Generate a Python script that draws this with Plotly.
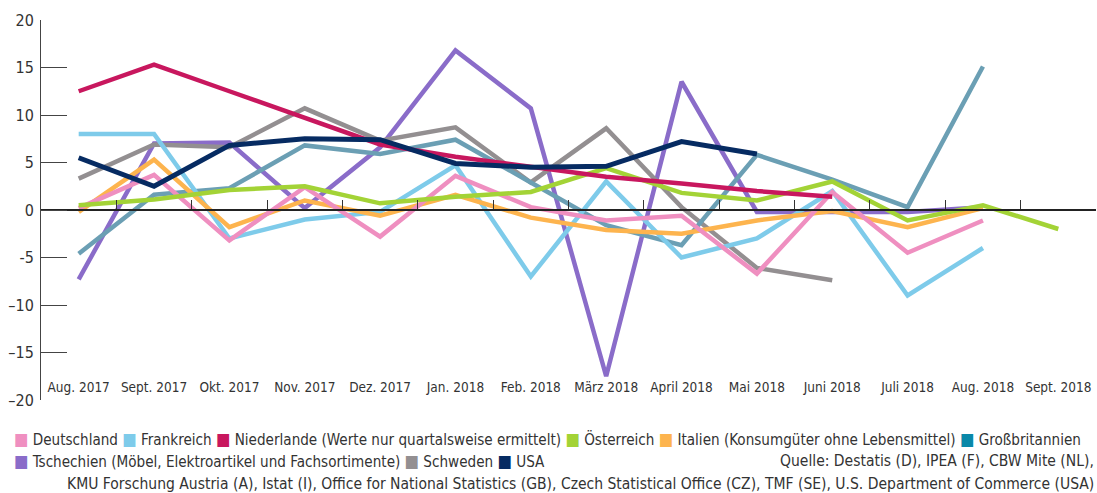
import plotly.graph_objects as go

months = ["Aug. 2017", "Sept. 2017", "Okt. 2017", "Nov. 2017", "Dez. 2017", "Jan. 2018",
          "Feb. 2018", "März 2018", "April 2018", "Mai 2018", "Juni 2018", "Juli 2018",
          "Aug. 2018", "Sept. 2018"]

deutschland = [0.2, 3.7, -3.2, 2.4, -2.8, 3.6, 0.3, -1.1, -0.6, -6.7, 1.9, -4.5, -1.1, None]
frankreich = [8.0, 8.0, -3.0, -1.0, -0.2, 4.7, -7.0, 3.0, -5.0, -3.0, 2.0, -9.0, -4.0, None]
niederlande = [12.5, 15.3, 12.5, 9.7, 6.9, 5.6, 4.5, 3.5, 2.8, 2.0, 1.4, None, None, None]
oesterreich = [0.5, 1.1, 2.1, 2.5, 0.7, 1.4, 1.9, 4.4, 1.8, 1.0, 3.0, -1.1, 0.5, -2.0]
italien = [-0.2, 5.3, -1.8, 1.0, -0.6, 1.6, -0.8, -2.1, -2.5, -1.1, -0.1, -1.8, 0.2, None]
grossbritannien = [-4.6, 1.6, 2.3, 6.8, 5.9, 7.4, 2.9, -1.6, -3.7, 5.8, 3.2, 0.3, 15.1, None]
tschechien = [-7.3, 7.0, 7.1, 0.2, 6.6, 16.8, 10.7, -17.5, 13.5, -0.2, -0.2, -0.2, 0.3, None]
schweden = [3.3, 6.9, 6.6, 10.7, 7.3, 8.7, 2.9, 8.6, 0.3, -6.1, -7.4, None, None, None]
usa = [5.5, 2.5, 6.8, 7.5, 7.4, 4.9, 4.5, 4.6, 7.2, 5.9, None, None, None, None]

y_tickvals = [20, 15, 10, 5, 0, -5, -10, -15, -20]
y_ticktext = ["20", "15", "10", "5", "0", "-5", "\u201310", "\u201315", "\u201320"]

legend_line1 = [("Deutschland", "#ef8fc0"), ("Frankreich", "#7ecbea"),
                ("Niederlande (Werte nur quartalsweise ermittelt)", "#c8175e"),
                ("Österreich", "#a3d336"), ("Italien (Konsumgüter ohne Lebensmittel)", "#fdb44e"),
                ("Großbritannien", "#0a88a8")]
legend_line2 = [("Tschechien (Möbel, Elektroartikel und Fachsortimente)", "#8a6cc9"),
                ("Schweden", "#938f91"), ("USA", "#062b62")]
source_a = "Quelle: Destatis (D), IPEA (F), CBW Mite (NL),"
source_b = ("KMU Forschung Austria (A), Istat (I), Office for National Statistics (GB), "
            "Czech Statistical Office (CZ), TMF (SE), U.S. Department of Commerce (USA)")

FONT = "DejaVu Sans Condensed, Liberation Sans, sans-serif"
TXT = "#333333"

series = [
    ("Tschechien", tschechien, "#8a6cc9", 4.5),
    ("Schweden", schweden, "#938f91", 4.5),
    ("Großbritannien", grossbritannien, "#6b9fb4", 4.5),
    ("Frankreich", frankreich, "#7ecbea", 4.5),
    ("Italien", italien, "#fdb44e", 4.5),
    ("Deutschland", deutschland, "#ef8fc0", 4.5),
    ("Österreich", oesterreich, "#a3d336", 4.5),
    ("Niederlande", niederlande, "#c8175e", 4.5),
    ("USA", usa, "#062b62", 5),
]

fig = go.Figure()
for name, vals, col, w in series:
    fig.add_trace(go.Scatter(x=months, y=vals, name=name, mode="lines",
                             line=dict(color=col, width=w), showlegend=False,
                             connectgaps=False))
# helper trace for the zero-line axis
fig.add_trace(go.Scatter(x=[None], y=[None], xaxis="x2", yaxis="y", showlegend=False,
                         hoverinfo="skip"))

L, R, T, B = 41, 1096, 20, 400
W, H = 1097, 493


def px(x):
    return (x - L) / (R - L)


def py(y):
    return (B - y) / (B - T)


def legend_text(items):
    parts = []
    for label, col in items:
        parts.append('<span style="color:%s;font-size:17px">\u25a0</span> %s' % (col, label))
    return " ".join(parts)


lfont = dict(family=FONT, size=15.1, color=TXT)
sfont = dict(family=FONT, size=15.5, color=TXT)
annotations = [
    dict(text=legend_text(legend_line1), x=px(12), y=py(438.5), xref="paper", yref="paper",
         xanchor="left", yanchor="middle", showarrow=False, font=lfont),
    dict(text=legend_text(legend_line2), x=px(12), y=py(461), xref="paper", yref="paper",
         xanchor="left", yanchor="middle", showarrow=False, font=lfont),
    dict(text=source_a, x=px(1096), y=py(461), xref="paper", yref="paper",
         xanchor="right", yanchor="middle", showarrow=False, font=sfont),
    dict(text=source_b, x=px(1096), y=py(483.5), xref="paper", yref="paper",
         xanchor="right", yanchor="middle", showarrow=False, font=sfont),
]

fig.update_layout(
    width=W, height=H,
    margin=dict(l=L, r=W - R, t=T, b=H - B, pad=0),
    paper_bgcolor="white", plot_bgcolor="white",
    font=dict(family=FONT, color=TXT),
    showlegend=False,
    xaxis=dict(type="category", categoryorder="array", categoryarray=months,
               range=[-0.5, 13.5], showgrid=False, zeroline=False, showline=False,
               ticks="", tickangle=0, anchor="free", position=py(377),
               ticklabelstandoff=0, tickfont=dict(size=13.5, color=TXT),
               fixedrange=True),
    xaxis2=dict(overlaying="x", anchor="free", position=0.5, range=[-0.5, 13.5],
                showgrid=False, zeroline=False, showline=True, linecolor="#222222", linewidth=1.5,
                ticks="inside", ticklen=9, tickwidth=1, tickcolor="#333333",
                tickvals=[i + 0.5 for i in range(-1, 14)], showticklabels=False, side="bottom"),
    yaxis=dict(range=[-20, 20], tickvals=y_tickvals, ticktext=y_ticktext,
               showgrid=False, zeroline=False, showline=True, linecolor="#444444", linewidth=1,
               ticks="inside", ticklen=26, tickwidth=1, tickcolor="#444444",
               tickfont=dict(size=16, color=TXT), ticklabelstandoff=3),
    annotations=annotations,
)

fig.write_html("out.html")
